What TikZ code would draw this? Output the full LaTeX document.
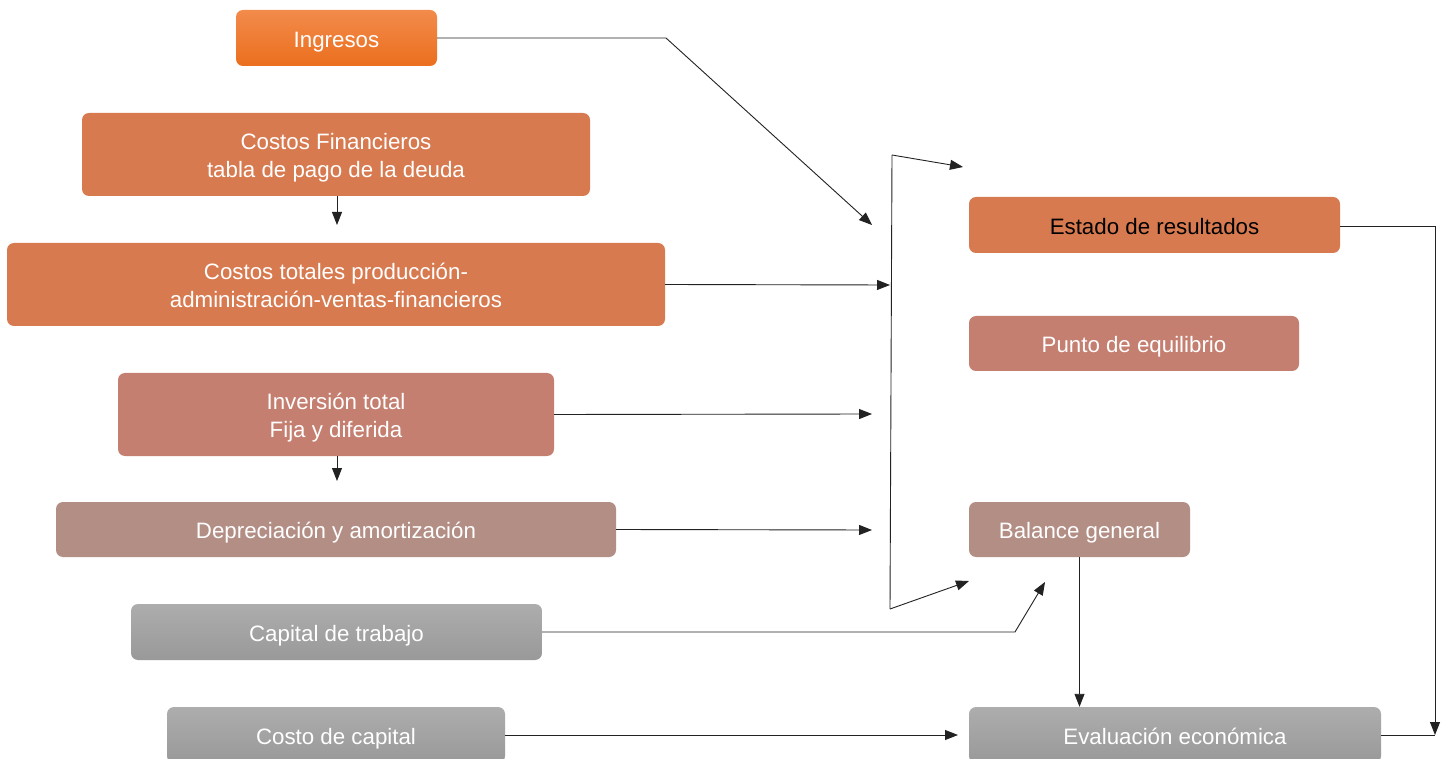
\documentclass[tikz,border=0pt]{standalone}
\usepackage{fontspec}
\setmainfont{Liberation Sans}
\usetikzlibrary{arrows.meta}
\definecolor{cOrangeT}{HTML}{F28B4B}
\definecolor{cOrangeB}{HTML}{EB6F1E}
\definecolor{cTerra}{HTML}{D87A50}
\definecolor{cRose}{HTML}{C47F70}
\definecolor{cMauve}{HTML}{B38E85}
\definecolor{cGrayT}{HTML}{ADADAD}
\definecolor{cGrayB}{HTML}{999999}
\definecolor{cLine}{HTML}{222222}
\newcommand{\bt}[1]{\raisebox{-3.5pt}[\height][\depth]{\begin{tabular}{@{}c@{}}#1\end{tabular}}}
\tikzset{
  box/.style={draw=none, rounded corners=7pt, text=white,
    font=\fontsize{22.3}{28}\selectfont, inner sep=0pt},
  orangebox/.style={box, top color=cOrangeT, bottom color=cOrangeB},
  terrabox/.style={box, fill=cTerra},
  rosebox/.style={box, fill=cRose},
  mauvebox/.style={box, fill=cMauve},
  graybox/.style={box, top color=cGrayT, bottom color=cGrayB},
  conn/.style={draw=cLine, line width=0.9pt},
  arr/.style={conn, -{Triangle[length=13pt,width=10pt]}},
}
\begin{document}
\begin{tikzpicture}[x=1pt,y=-1pt]
\clip (0,0) rectangle (1444,759);
\fill[white] (0,0) rectangle (1444,759);
% left column
\node[orangebox, minimum width=201pt, minimum height=56pt] (ing) at (336.5,38) {\bt{Ingresos}};
\node[terrabox, minimum width=508pt, minimum height=83pt] (cfin) at (336,154.5) {\bt{Costos Financieros\\tabla de pago de la deuda}};
\node[terrabox, minimum width=658pt, minimum height=83pt] (ctot) at (336,284.5) {\bt{Costos totales producción-\\administración-ventas-financieros}};
\node[rosebox, minimum width=436pt, minimum height=83pt] (inv) at (336,414.5) {\bt{Inversión total\\Fija y diferida}};
\node[mauvebox, minimum width=560pt, minimum height=55pt] (dep) at (336,529.5) {\bt{Depreciación y amortización}};
\node[graybox, minimum width=411pt, minimum height=56pt] (ctrab) at (336.5,632) {\bt{Capital de trabajo}};
\node[graybox, minimum width=338pt, minimum height=56pt] (ccap) at (336,735) {\bt{Costo de capital}};
% right column
\node[terrabox, text=black, minimum width=371pt, minimum height=56pt] (est) at (1154.5,225) {\bt{Estado de resultados}};
\node[rosebox, minimum width=330pt, minimum height=55pt] (pto) at (1134,343.5) {\bt{Punto de equilibrio}};
\node[mauvebox, minimum width=221pt, minimum height=55pt] (bal) at (1079.5,529.5) {\bt{Balance general}};
\node[graybox, minimum width=412pt, minimum height=56pt] (eva) at (1175,735) {\bt{Evaluación económica}};
% free-end coordinates
\coordinate (ingK) at (666,38);
\coordinate (ingT) at (872,225);
\coordinate (cfinT) at (337,225);
\coordinate (ctotT) at (890,285);
\coordinate (brTop) at (892,155);
\coordinate (brBot) at (890,609);
\coordinate (brTopT) at (963,167);
\coordinate (brBotT) at (969,581);
\coordinate (invT) at (872,414);
\coordinate (invD) at (337,481);
\coordinate (depT) at (872,530);
\coordinate (ctrK) at (1015,632);
\coordinate (ctrT) at (1045,582);
\coordinate (ccapT) at (958,735);
\coordinate (estK) at (1435,226);
\coordinate (estT) at (1435,735);
% connectors
\draw[arr] (ing.east) -- (ingK) -- (ingT);
\draw[arr] (cfin.south -| cfinT) -- (cfinT);
\draw[arr] (ctot.east) -- (ctotT);
\draw[conn] (brTop) -- (brBot);
\draw[arr] (brTop) -- (brTopT);
\draw[arr] (brBot) -- (brBotT);
\draw[arr] (inv.east) -- (invT);
\draw[arr] (inv.south -| invD) -- (invD);
\draw[arr] (dep.east) -- (depT);
\draw[arr] (ctrab.east) -- (ctrK) -- (ctrT);
\draw[arr] (ccap.east) -- (ccapT);
\draw[arr] (bal.south) -- (eva.north -| bal.south);
\draw[arr] (est.east |- estK) -- (estK) -- (estT);
\draw[conn] (eva.east) -- (estT);
\end{tikzpicture}
\end{document}
